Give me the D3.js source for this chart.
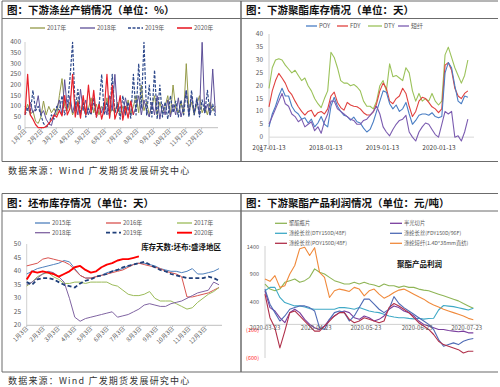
<!DOCTYPE html>
<html><head><meta charset="utf-8">
<script src="https://cdn.jsdelivr.net/npm/d3@7"></script>
<style>body{margin:0;background:#fff}svg{display:block}</style>
</head><body>
<svg id="c" width="500" height="387"></svg>
<script>
// ---------- Panel 1: 下游涤丝产销情况 (day offset from Jan 2, every 5 days) ----------
const p1Step = 5;
const p1MonthLabels = ['1月2日','2月2日','3月2日','4月2日','5月2日','6月2日','7月2日','8月2日','9月2日','10月2日','11月2日','12月2日'];
const p1Ticks = [0,50,100,150,200,250,300,350,400];
const s2017 = [70,110,60,80,30,20,50,125,60,100, 70,90,60,150,230,100,80,120,60,90, 130,70,100,60,90,140,70,110,60,100, 80,140,60,90,70,120,60,100,70,130, 60,100,150,70,200,80,120,60,100,150, 60,120,70,100,150,60,200,90,70,120, 60,300,80,120,60,110,150,70,100,60, 120,80,100];
const s2018 = [100,80,120,70,90,150,60,80,40,20, 10,60,90,130,60,225,90,150,70,120, 60,180,80,130,60,100,140,60,110,70, 120,60,150,80,250,70,100,60,140,80, 120,60,100,150,60,130,80,50,120,60, 150,40,110,60,130,50,110,60,140,50, 100,175,60,150,70,130,60,400,70,110, 60,275,70];
const s2019 = [60,90,70,175,80,100,60,20,5,10, 60,40,100,80,150,60,100,230,400,80, 180,60,120,50,90,60,130,50,100,250, 60,120,50,250,70,110,40,150,60,120, 45,250,60,300,90,400,60,200,50,270, 40,200,50,120,40,150,70,125,50,130, 60,175,50,175,60,140,50,130,70,175, 60,110,55];
const s2020 = [60,250,60,40,15,0,0,0,5,20, 35,60,50,80,55,150,60,90,250,50, 120,45,150,60,200,70,175,50,110,40, 90,250,45,200,40,80,150,35,100,45, 125,60];

// ---------- Panel 2: 下游聚酯库存情况 (every 3 weeks from 2017-01-13) ----------
const p2Start = '2017-01-13';
const p2StepDays = 21;
const p2XLabels = ['2017-01-13','2018-01-13','2019-01-13','2020-01-13'];
const p2Ticks = [-5,0,5,10,15,20,25,30,35,40];
const POY = [4,9,12,16,19,16,16,12,10,9, 7,7.5,5.5,7,4,5.5,8,5,4,12, 15.5,12,10,8.5,8,6.6,7.8,6,5.5,3.5, 2,3,6,10,14,18,17.5,13,11,12.5, 10,11,13.5,9,5,6.5,8.5,9,9,8.5, 9.5,8,7.5,8,25,29,27,20,14,13, 16,15.5];
const FDY = [11.8,18,22,24.8,23,21,18,16.5,14,11.8, 10,8.6,10,10.5,8,9.5,10,9,11,16, 17.5,13.5,11.5,10.5,13.5,12.5,12,11.8,11,9.5, 8.6,8.6,9.8,13,18,21,19,14,13,15, 16,19,17,12,8,10,14,15.5,15,13.5, 11.8,11,9.5,11,28,29,26,19,16,15, 17,18];
const DTY = [19,27,30,30.5,30,28,26.5,25,26,24, 22,23,20,18,15,13,11.5,15,18,33, 31,27,22,21,21,20,20.5,19.5,18,14, 12,12,11,14,20,22,18,28.5,23.5,24, 23,22,27,25,18,14,17,14,15,14, 17,14,12.5,14,32,35,31,27,24,21, 24,30];
const PSF = [5,8,11,14,17,13,12,9,8,6, 7,4,5,6,2.5,4,1.5,6,9,14, 14,11,10,9,8,7,6.5,5,5,6.5, 7,8.5,10,12,9,4,2,0.5,3,5, 6.5,7,8.5,2,0,-1.5,2,4,5.5,5, 3,1,0,5,10,9,10,0,0.5,-1.5, 2,7];

// ---------- Panel 3: 坯布库存情况 (every 10 days from Jan 3) ----------
const p3Step = 10;
const p3MonthLabels = ['1月3日','2月3日','3月3日','4月3日','5月3日','6月3日','7月3日','8月3日','9月3日','10月3日','11月3日','12月3日'];
const p3Ticks = [20,25,30,35,40,45,50];
const g2015 = [39,40,41,41.5,42,42.5,43,44,43.5,41, 38.5,37.5,37.5,38,38.5,39.5,40,40.5,41,42, 42.5,43,43,42.5,42,41,40.5,40,40,39.5, 40,41,39,39,39.5,40,41];
const g2016 = [42,42.5,43,44.5,45,44.5,44,43.5,42.5,40.5, 38.5,37.5,37.5,38,38.5,39,39.5,40,40.5,41.5, 42.5,43,42.5,42,41.5,41,40,39.5,39,38, 30.5,30.5,31,31.5,32,33,34];
const g2017 = [34.5,36,38,39,39.5,38,37,35.5,35.5,36, 36,35.5,36,36,36,36,35,34.5,33,31.5, 31,31,31.5,32.5,30,29,29,29,28,27, 26,26.5,28.5,30,31.5,32.5,34];
const g2018 = [35,36,37.5,39,40,39.5,38,36,30,23, 21.5,22.5,23,23.5,24,24.5,25,23,23.5,24, 25,26,27.5,28,27.5,27,27,28,28.5,29, 30,31,32,32.5,33,36,35];
const g2019 = [36,35,37,37.5,37.5,37,36,35,34.5,34, 35.5,36.5,37,38,38.5,39,40,40.5,41.5,42, 42.5,43,43.5,42.5,41.5,40.5,40,39,38.5,38, 37.5,37.5,37.5,37.5,38,37.5,36.5];
const g2020 = [37,40,39.5,40,39.5,39,38,39,40,41.5, 42,40.5,39.5,40,41.5,42.5,43,44,44.5,44.5, 45,45.5];

// ---------- Panel 4: 下游聚酯产品利润情况 (every 3 days from 2020-03-23) ----------
const p4Start = '2020-03-23';
const p4StepDays = 3;
const p4XLabels = ['2020-03-23','2020-04-23','2020-05-23','2020-06-23','2020-07-23'];
const p4Ticks = [1400,900,400,-100,-600];
const bottleChip = [727,636,606,636,758,788,818,758,788,848, 1000,939,909,848,788,758,727,727,758,727, 758,727,709,679,727,697,697,667,691,667, 667,636,618,606,576,545,515,485,455,424, 376,333,291];
const semiChip = [606,303,242,121,30,212,273,212,91,0, -61,-91,-30,91,152,212,242,212,121,91, 152,121,61,91,152,273,333,303,242,212, 152,61,0,-30,-61,-91,-91,-109,-121,-133, -121,-152,-152];
const dty150 = [606,667,667,485,394,364,333,333,315,285, 273,273,273,273,273,303,303,291,273,303, 273,242,224,212,182,152,133,121,121,109, 100,110,95,105,110,260,340,330,320,300, 280,260,290];
const fdy150 = [636,364,212,61,152,273,303,333,333,303, 242,-61,-91,91,212,242,212,61,152,303, 455,455,364,273,212,273,500,376,303,242, 182,121,61,0,-91,-273,-394,-364,-333,-364, -303,-273,-255];
const poy150 = [545,121,-61,-424,-121,212,242,152,61,-30, -121,-121,-30,61,152,212,212,91,30,61, 121,91,61,30,61,303,376,333,273,212, 121,30,-30,-91,-182,-303,-364,-394,-424,-455, -515,-485,-485];
const psf14 = [818,776,879,667,697,909,1061,1364,1390,1242, 1382,939,848,485,606,636,618,594,667,636, 515,606,636,545,473,515,576,618,636,594, 545,497,455,394,351,315,273,242,212,182, 152,109,85];

// ================= drawing =================
const svg = d3.select('#c');
const F = '"Noto Sans CJK SC","Noto Sans",sans-serif';
const AX = '#595959';

// frame
const frame = svg.append('g').attr('stroke','#6b6b6b').attr('fill','none');
[[1,161.5],[193.5,372]].forEach(([t,b]) => {
  frame.append('line').attr('x1',2).attr('x2',498).attr('y1',t).attr('y2',t).attr('stroke-width',1);
  frame.append('line').attr('x1',2).attr('x2',498).attr('y1',t+17.5).attr('y2',t+17.5).attr('stroke-width',1);
  frame.append('line').attr('x1',2).attr('x2',498).attr('y1',b).attr('y2',b).attr('stroke-width',1.2);
  frame.append('line').attr('x1',2).attr('x2',2).attr('y1',t).attr('y2',b).attr('stroke-width',1);
  frame.append('line').attr('x1',241).attr('x2',241).attr('y1',t).attr('y2',b).attr('stroke-width',1.5);
});
function title(x,y,t){ svg.append('text').attr('x',x).attr('y',y).attr('font-family',F).attr('font-weight','bold').attr('font-size',10.5).attr('fill','#111').text(t); }
title(7,14,'图：下游涤丝产销情况（单位：%）');
title(246,14,'图：下游聚酯库存情况（单位：天）');
title(7,207,'图：坯布库存情况（单位：天）');
title(246,207,'图：下游聚酯产品利润情况（单位：元/吨）');
function footer(y){ svg.append('text').attr('x',8).attr('y',y).attr('font-family',F).attr('font-size',9).attr('letter-spacing',1.2).attr('fill','#333').text('数据来源：Wind 广发期货发展研究中心'); }
footer(174); footer(384);

function legend(x,y,color,label,opt={}){
  const g = svg.append('g');
  g.append('line').attr('x1',x).attr('x2',x+(opt.len||15)).attr('y1',y).attr('y2',y)
    .attr('stroke',color).attr('stroke-width',opt.w||1.3).attr('stroke-dasharray',opt.dash||null);
  g.append('text').attr('x',x+(opt.len||15)+2).attr('y',y+2).attr('font-family',F).attr('font-size',opt.fs||6)
    .attr('fill',AX).text(label);
}
function drawLine(g,data,x,y,color,w,dash){
  g.append('path').datum(data).attr('fill','none').attr('stroke',color).attr('stroke-width',w)
    .attr('stroke-linejoin','round').attr('stroke-dasharray',dash||null)
    .attr('d',d3.line().x(d=>x(d[0])).y(d=>y(d[1])));
}

// ---------- Panel 1 ----------
{
  const base = new Date(2019,0,2);
  const x = d3.scaleTime().domain([base,new Date(2020,0,2)]).range([25,218]);
  const y = d3.scaleLinear().domain([0,400]).range([127.7,42.3]);
  const g = svg.append('g');
  g.append('line').attr('x1',25).attr('x2',25).attr('y1',42).attr('y2',127.7).attr('stroke','#d0d0d0');
  g.append('line').attr('x1',25).attr('x2',218).attr('y1',127.7).attr('y2',127.7).attr('stroke','#bfbfbf');
  p1Ticks.forEach(v=>{
    g.append('text').attr('x',21).attr('y',y(v)+2).attr('text-anchor','end').attr('font-family',F).attr('font-size',6.5).attr('fill',AX).text(v);
  });
  p1MonthLabels.forEach((lab,m)=>{
    const xx = x(new Date(2019,m,2));
    g.append('line').attr('x1',xx).attr('x2',xx).attr('y1',127.7).attr('y2',129.5).attr('stroke','#bfbfbf');
    g.append('text').attr('transform',`translate(${xx+2},${131.5}) rotate(-45)`).attr('text-anchor','end')
      .attr('font-family',F).attr('font-size',6).attr('fill',AX).text(lab);
  });
  const mk = arr => arr.map((v,i)=>[d3.timeDay.offset(base,i*p1Step),v]);
  drawLine(g,mk(s2017),x,y,'#949a48',1);
  drawLine(g,mk(s2018),x,y,'#5d4f98',1);
  drawLine(g,mk(s2019),x,y,'#2f4a8c',1.2,'3,1.5');
  drawLine(g,mk(s2020),x,y,'#e8212b',1.2);
  legend(30,28,'#949a48','2017年');
  legend(80,28,'#5d4f98','2018年');
  legend(128,28,'#2f4a8c','2019年',{dash:'3,1.5'});
  legend(177,28,'#e8212b','2020年',{w:1.6});
}

// ---------- Panel 2 ----------
{
  const t0 = d3.timeParse('%Y-%m-%d')(p2Start);
  const x = d3.scaleTime().domain([t0,new Date(2020,0,13)]).range([269,439]);
  const y = d3.scaleLinear().domain([-5,40]).range([150,34.3]);
  const g = svg.append('g');
  g.append('line').attr('x1',269).attr('x2',269).attr('y1',34).attr('y2',150).attr('stroke','#d0d0d0');
  g.append('line').attr('x1',269).attr('x2',474).attr('y1',y(0)).attr('y2',y(0)).attr('stroke','#d9d9d9');
  p2Ticks.forEach(v=>{
    g.append('text').attr('x',263).attr('y',y(v)+2).attr('text-anchor','end').attr('font-family',F).attr('font-size',6.5).attr('fill',AX).text(v);
  });
  const mk = arr => arr.map((v,i)=>[d3.timeDay.offset(t0,i*p2StepDays),v]);
  drawLine(g,mk(DTY),x,y,'#9bc25a',1.1);
  drawLine(g,mk(FDY),x,y,'#e0413f',1.1);
  drawLine(g,mk(POY),x,y,'#4a7ec4',1.1);
  drawLine(g,mk(PSF),x,y,'#7b5cb0',1.1);
  p2XLabels.forEach(l=>{
    g.append('text').attr('x',x(d3.timeParse('%Y-%m-%d')(l))).attr('y',149.5).attr('text-anchor','middle')
      .attr('font-family',F).attr('font-size',6.5).attr('fill','#404040').text(l);
  });
  legend(306,26,'#4a7ec4','POY',{len:11});
  legend(337,26,'#e0413f','FDY',{len:11});
  legend(368,26,'#9bc25a','DTY',{len:14});
  legend(398,26,'#7b5cb0','短纤',{len:11});
}

// ---------- Panel 3 ----------
{
  const base = new Date(2019,0,3);
  const x = d3.scaleTime().domain([base,new Date(2020,0,3)]).range([26.7,221.7]);
  const y = d3.scaleLinear().domain([20,50]).range([325.3,244.3]);
  const g = svg.append('g');
  g.append('line').attr('x1',26.7).attr('x2',26.7).attr('y1',244).attr('y2',325.3).attr('stroke','#d0d0d0');
  g.append('line').attr('x1',26.7).attr('x2',222).attr('y1',325.3).attr('y2',325.3).attr('stroke','#bfbfbf');
  p3Ticks.forEach(v=>{
    g.append('text').attr('x',21).attr('y',y(v)+2).attr('text-anchor','end').attr('font-family',F).attr('font-size',6.5).attr('fill',AX).text(v);
  });
  p3MonthLabels.forEach((lab,m)=>{
    const xx = x(new Date(2019,m,3));
    g.append('line').attr('x1',xx).attr('x2',xx).attr('y1',325.3).attr('y2',327).attr('stroke','#bfbfbf');
    g.append('text').attr('transform',`translate(${xx+2},${329}) rotate(-45)`).attr('text-anchor','end')
      .attr('font-family',F).attr('font-size',6).attr('fill',AX).text(lab);
  });
  const mk = arr => arr.map((v,i)=>[d3.timeDay.offset(base,i*p3Step),v]);
  drawLine(g,mk(g2015),x,y,'#4f81bd',1);
  drawLine(g,mk(g2016),x,y,'#d9534f',1);
  drawLine(g,mk(g2017),x,y,'#9bbb59',1);
  drawLine(g,mk(g2018),x,y,'#8064a2',1);
  drawLine(g,mk(g2019),x,y,'#1f3f7a',1.8,'4,2.5');
  drawLine(g,mk(g2020),x,y,'#ff0000',1.9);
  legend(35,223,'#4f81bd','2015年');
  legend(106,223,'#d9534f','2016年');
  legend(177,223,'#9bbb59','2017年');
  legend(35,232.7,'#8064a2','2018年');
  legend(106,232.7,'#1f3f7a','2019年',{w:1.8,dash:'4,2.5'});
  legend(177,232.7,'#ff0000','2020年',{w:1.9});
  g.append('text').attr('x',221).attr('y',249.5).attr('text-anchor','end').attr('font-family',F)
    .attr('font-weight','bold').attr('font-size',7.5).attr('fill','#111').text('库存天数:坯布:盛泽地区');
}

// ---------- Panel 4 ----------
{
  const pt = d3.timeParse('%Y-%m-%d');
  const t0 = pt(p4Start);
  const x = d3.scaleTime().domain([t0,pt('2020-07-23')]).range([265,466.7]);
  const y = d3.scaleLinear().domain([-600,1400]).range([357.7,246.7]);
  const g = svg.append('g');
  g.append('line').attr('x1',265).attr('x2',265).attr('y1',246).attr('y2',358).attr('stroke','#d0d0d0');
  g.append('line').attr('x1',265).attr('x2',480).attr('y1',y(0)).attr('y2',y(0)).attr('stroke','#d0d0d0');
  p4Ticks.forEach(v=>{
    g.append('text').attr('x',259).attr('y',y(v)+2).attr('text-anchor','end').attr('font-family',F).attr('font-size',5.5)
      .attr('fill',v<0?'#ff2020':AX).text(v<0?`(${-v})`:v);
  });
  const mk = arr => arr.map((v,i)=>[d3.timeDay.offset(t0,i*p4StepDays),v]);
  drawLine(g,mk(bottleChip),x,y,'#8fb556',1.1);
  drawLine(g,mk(dty150),x,y,'#3fa9c6',1.1);
  drawLine(g,mk(semiChip),x,y,'#7a3e9d',1.1);
  drawLine(g,mk(fdy150),x,y,'#4f6bb5',1.1);
  drawLine(g,mk(poy150),x,y,'#b0304a',1.1);
  drawLine(g,mk(psf14),x,y,'#f08a3c',1.1);
  p4XLabels.forEach(l=>{
    g.append('text').attr('x',x(pt(l))).attr('y',330).attr('text-anchor','middle')
      .attr('font-family',F).attr('font-size',6).attr('fill',AX).text(l);
  });
  const o = {len:12,fs:5.3};
  legend(275,223.3,'#8fb556','聚酯瓶片',o);
  legend(390,223.3,'#7a3e9d','半光切片',o);
  legend(275,233.3,'#3fa9c6','涤纶长丝(DTY150D/48F)',o);
  legend(390,233.3,'#4f6bb5','涤纶长丝(FDY150D/96F)',o);
  legend(275,243.3,'#b0304a','涤纶长丝(POY150D/48F)',o);
  legend(390,243.3,'#f08a3c','涤纶短纤(1.4D*38mm直纺)',o);
  g.append('text').attr('x',397).attr('y',267).attr('font-family',F).attr('font-weight','bold')
    .attr('font-size',7.5).attr('fill','#111').text('聚酯产品利润');
}
</script>
</body></html>
